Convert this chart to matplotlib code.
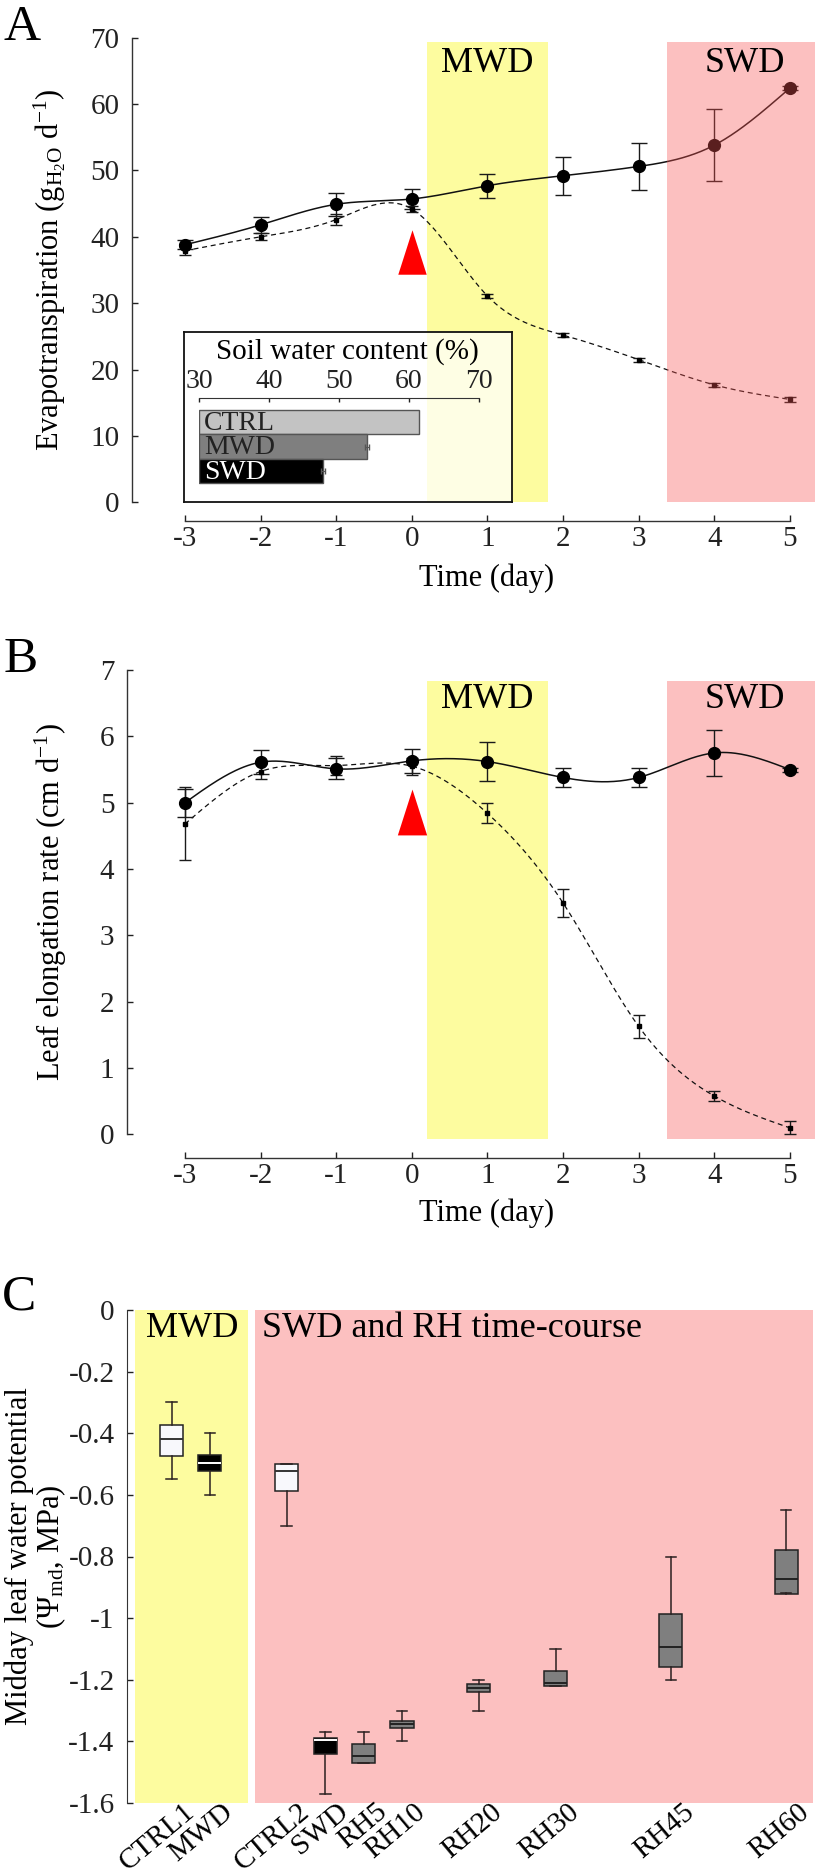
import numpy as np
import matplotlib
matplotlib.use('Agg')
import matplotlib.pyplot as plt
from matplotlib.transforms import ScaledTranslation

plt.rcParams['font.family'] = ['Liberation Serif', 'DejaVu Serif']
plt.rcParams['mathtext.fontset'] = 'custom'
plt.rcParams['mathtext.rm'] = 'Liberation Serif'
plt.rcParams['mathtext.it'] = 'Liberation Serif:italic'
plt.rcParams['axes.unicode_minus'] = False

# ---------------- data ----------------
days = [-3, -2, -1, 0, 1, 2, 3, 4, 5]

# A: evapotranspiration (g H2O / d)
et_ctrl = [38.8, 41.8, 44.9, 45.7, 47.7, 49.2, 50.6, 53.8, 62.4]
et_ctrl_err = [0.7, 1.2, 1.7, 1.55, 1.8, 2.9, 3.5, 5.4, 0.3]
et_drought = [37.9, 40.0, 42.6, 44.2, 31.1, 25.2, 21.5, 17.7, 15.5]
et_drought_err = [0.6, 0.5, 0.8, 0.5, 0.3, 0.3, 0.3, 0.3, 0.4]

# inset: soil water content (%)
swc_labels = ['CTRL', 'MWD', 'SWD']
swc_values = [61.4, 54.0, 47.7]
swc_err = [0.0, 0.3, 0.3]

# B: leaf elongation rate (cm / d)
ler_ctrl = [5.0, 5.61, 5.51, 5.63, 5.62, 5.38, 5.38, 5.75, 5.50]
ler_ctrl_err = [0.21, 0.18, 0.16, 0.18, 0.30, 0.15, 0.15, 0.35, 0.03]
ler_drought = [4.68, 5.47, 5.56, 5.55, 4.84, 3.49, 1.63, 0.58, 0.10]
ler_drought_err = [0.55, 0.12, 0.15, 0.13, 0.15, 0.21, 0.17, 0.08, 0.10]

# C: midday leaf water potential (MPa) box stats
box_labels = ['CTRL1', 'MWD', 'CTRL2', 'SWD', 'RH5', 'RH10', 'RH20', 'RH30', 'RH45', 'RH60']
box_whislo = [-0.55, -0.60, -0.70, -1.57, -1.47, -1.40, -1.30, -1.22, -1.20, -0.92]
box_q1 = [-0.474, -0.522, -0.586, -1.44, -1.47, -1.358, -1.241, -1.221, -1.158, -0.922]
box_med = [-0.42, -0.495, -0.523, -1.396, -1.446, -1.345, -1.226, -1.209, -1.095, -0.872]
box_q3 = [-0.374, -0.471, -0.499, -1.39, -1.41, -1.333, -1.214, -1.172, -0.985, -0.779]
box_whishi = [-0.30, -0.40, -0.499, -1.37, -1.37, -1.30, -1.20, -1.10, -0.80, -0.65]
box_group = ['ctrl', 'dark', 'ctrl', 'dark', 'rh', 'rh', 'rh', 'rh', 'rh', 'rh']
c_yticks = [0, -0.2, -0.4, -0.6, -0.8, -1, -1.2, -1.4, -1.6]
c_yticklabels = ['0', '-0.2', '-0.4', '-0.6', '-0.8', '-1', '-1.2', '-1.4', '-1.6']

# ---------------- helpers ----------------
W, H = 816, 1872
YELLOW = '#fdfc9f'
PINK = '#fcc0c0'


def rect(l, t, r, b):
    return [l / W, 1 - b / H, (r - l) / W, (b - t) / H]


def natural_spline(x, y, num=300):
    x = np.asarray(x, float)
    y = np.asarray(y, float)
    n = len(x)
    h = np.diff(x)
    A = np.zeros((n, n))
    r = np.zeros(n)
    A[0, 0] = A[-1, -1] = 1
    for i in range(1, n - 1):
        A[i, i - 1] = h[i - 1]
        A[i, i] = 2 * (h[i - 1] + h[i])
        A[i, i + 1] = h[i]
        r[i] = 6 * ((y[i + 1] - y[i]) / h[i] - (y[i] - y[i - 1]) / h[i - 1])
    M = np.linalg.solve(A, r)
    xs = np.linspace(x[0], x[-1], num)
    k = np.clip(np.searchsorted(x, xs) - 1, 0, n - 2)
    hh = x[k + 1] - x[k]
    t0 = x[k + 1] - xs
    t1 = xs - x[k]
    ys = (M[k] * t0 ** 3 + M[k + 1] * t1 ** 3) / (6 * hh) \
        + (y[k] / hh - M[k] * hh / 6) * t0 + (y[k + 1] / hh - M[k + 1] * hh / 6) * t1
    return xs, ys


tri = [(-0.64, -1), (0.64, -1), (0, 1)]


def time_panel(ax, ctrl, ctrl_err, dr, dr_err, xlim, span, pink_over, tri_y, tri_ms):
    ax.set_xlim(*xlim)
    for s in ['top', 'right']:
        ax.spines[s].set_visible(False)
    for s in ['left', 'bottom']:
        ax.spines[s].set_color('#333333')
        ax.spines[s].set_linewidth(1.0)
    ax.spines['bottom'].set_position(('outward', 13.3))
    ax.spines['bottom'].set_bounds(-3, 5)
    ax.set_xticks(days)
    ax.tick_params(axis='both', direction='in', length=4.5, width=1.0, colors='#222222', labelsize=21)
    ax.tick_params(axis='x', pad=4)
    ax.tick_params(axis='y', pad=9)

    ax.plot(*natural_spline(days, ctrl), '-', color='#111111', lw=1.1, zorder=3)
    ax.plot(*natural_spline(days, dr), color='#111111', lw=0.9, ls=(0, (4, 3)), zorder=3)
    ax.errorbar(days, ctrl, yerr=ctrl_err, fmt='none', ecolor='#1a1a1a', elinewidth=1.0,
                capsize=6, capthick=1.0, zorder=3)
    ax.errorbar(days, dr, yerr=dr_err, fmt='none', ecolor='#1a1a1a', elinewidth=1.0,
                capsize=4, capthick=1.0, zorder=3)
    ax.plot(days, ctrl, 'o', color='black', ms=8.5, zorder=4)
    ax.plot(days, dr, 's', color='black', ms=3, zorder=4)

    ax.fill_between([0.2, 1.8], span[0], span[1], color=YELLOW, lw=0, zorder=0)
    if pink_over:
        ax.fill_between([3.37, 5.4], span[0], span[1], color='#f75555', alpha=0.37, lw=0, zorder=5)
    else:
        ax.fill_between([3.37, 5.4], span[0], span[1], color=PINK, lw=0, zorder=0)
    ax.plot([0], [tri_y], marker=tri, ms=tri_ms, color='#ff0000', mec='none', zorder=6)


# ---------------- figure ----------------
fig = plt.figure(figsize=(W / 100, H / 100), dpi=100)

# Panel A
axA = fig.add_axes(rect(132, 37.7, 814, 502.3))
time_panel(axA, et_ctrl, et_ctrl_err, et_drought, et_drought_err,
           (-3.70, 5.32), (0, 69.3), True, 37.65, 32)
axA.set_ylim(0, 70)
axA.set_yticks(range(0, 71, 10))
axA.text(1.0, 64.9, 'MWD', ha='center', va='baseline', fontsize=26, zorder=7)
axA.text(4.41, 64.9, 'SWD', ha='center', va='baseline', fontsize=26, zorder=7)
axA.set_ylabel(r'Evapotranspiration (g$_{\mathrm{H_2O}}$ d$^{-1}$)', fontsize=22)
axA.yaxis.set_label_coords(-0.121, 0.5)
axA.yaxis.label.set_va('center')
fig.text(487 / W, 1 - 586 / H, 'Time (day)', ha='center', va='baseline', fontsize=22)

# inset: soil water content
axBox = fig.add_axes(rect(184, 332, 512, 502))
axBox.set_facecolor((1, 1, 1, 0.72))
axBox.set_xticks([])
axBox.set_yticks([])
for s in axBox.spines.values():
    s.set_linewidth(1.3)
    s.set_color('#111111')

axS = fig.add_axes(rect(199, 398, 479, 486))
axS.patch.set_visible(False)
ypos = np.arange(len(swc_labels))
bar_cols = ['#c3c3c3', '#7f7f7f', '#000000']
txt_cols = ['#222222', '#222222', 'white']
axS.barh(ypos, np.array(swc_values) - 30, left=30, height=1.0, color=bar_cols,
         edgecolor='#555555', linewidth=1.0)
axS.errorbar(swc_values[1:], ypos[1:], xerr=swc_err[1:], fmt='none', ecolor='#555555',
             elinewidth=0.8, capsize=2)
for yy, lab, tc in zip(ypos, swc_labels, txt_cols):
    axS.text(30.7, yy + 0.05, lab, color=tc, fontsize=20, ha='left', va='center')
axS.set_xlim(30, 70)
axS.set_ylim(2.62, -0.99)
axS.set_yticks([])
axS.xaxis.tick_top()
axS.set_xticks([30, 40, 50, 60, 70])
axS.tick_params(axis='x', direction='in', length=3, width=1.0, labelsize=20, pad=3, colors='#222222')
for s in ['bottom', 'left', 'right']:
    axS.spines[s].set_visible(False)
axS.spines['top'].set_color('#333333')
fig.text(347 / W, 1 - 359 / H, 'Soil water content (%)', ha='center', va='baseline', fontsize=21)

# Panel B
axB = fig.add_axes(rect(127, 670, 814, 1139.1))
time_panel(axB, ler_ctrl, ler_ctrl_err, ler_drought, ler_drought_err,
           (-3.767, 5.32), (-0.07, 6.84), False, 4.86, 33)
axB.set_ylim(-0.07, 7)
axB.spines['left'].set_bounds(0, 7)
axB.set_yticks(range(0, 8))
axB.text(1.0, 6.43, 'MWD', ha='center', va='baseline', fontsize=26, zorder=7)
axB.text(4.41, 6.43, 'SWD', ha='center', va='baseline', fontsize=26, zorder=7)
axB.set_ylabel(r'Leaf elongation rate (cm d$^{-1}$)', fontsize=22)
axB.yaxis.set_label_coords(-0.111, 1 - (902 - 670) / (1139.1 - 670))
axB.yaxis.label.set_va('center')
fig.text(487 / W, 1 - 1221 / H, 'Time (day)', ha='center', va='baseline', fontsize=22)

# Panel C
axC = fig.add_axes(rect(127, 1310, 813, 1803))
positions = [-20, -15, -5, 0, 5, 10, 20, 30, 45, 60]
axC.set_xlim(-25.8, 63.5)
axC.set_ylim(-1.6, 0)
axC.axvspan(-24.7, -10.0, color=YELLOW, lw=0, zorder=0)
axC.axvspan(-9.1, 63.5, color=PINK, lw=0, zorder=0)
stats = [dict(label=l, whislo=a, q1=b, med=c, q3=d, whishi=e, fliers=[])
         for l, a, b, c, d, e in zip(box_labels, box_whislo, box_q1, box_med, box_q3, box_whishi)]
bp = axC.bxp(stats, positions=positions, widths=3.0, capwidths=1.4, patch_artist=True,
             showfliers=False, manage_ticks=False,
             boxprops=dict(edgecolor='#222222', linewidth=1.1),
             whiskerprops=dict(color='#2a2020', linewidth=1.1),
             capprops=dict(color='#2a2020', linewidth=1.1),
             medianprops=dict(color='#222222', linewidth=1.4))
face = {'ctrl': '#f8f8fc', 'dark': '#000000', 'rh': '#7f7f7f'}
medc = {'ctrl': '#333333', 'dark': '#ffffff', 'rh': '#222222'}
for patch, med, g in zip(bp['boxes'], bp['medians'], box_group):
    patch.set_facecolor(face[g])
    med.set_color(medc[g])
for s in ['top', 'right', 'bottom']:
    axC.spines[s].set_visible(False)
axC.spines['left'].set_color('#333333')
axC.set_yticks(c_yticks, c_yticklabels)
axC.tick_params(axis='y', direction='in', length=4.5, width=1.0, labelsize=21, pad=9, colors='#222222')
axC.set_xticks(positions, box_labels, rotation=40, ha='right', va='center',
               rotation_mode='anchor', fontsize=21)
axC.tick_params(axis='x', length=0, pad=4)
shift = ScaledTranslation(20 / 100, 0, fig.dpi_scale_trans)
for lab in axC.get_xticklabels():
    lab.set_transform(lab.get_transform() + shift)
axC.text(-17.3, -0.088, 'MWD', ha='center', va='baseline', fontsize=26)
axC.text(-8.2, -0.088, 'SWD and RH time-course', ha='left', va='baseline', fontsize=26)
axC.set_ylabel('Midday leaf water potential\n(Ψ$_{\\mathrm{md}}$, MPa)', fontsize=22,
               linespacing=1.0)
axC.yaxis.set_label_coords((36 - 127) / (813 - 127), 0.5)
axC.yaxis.label.set_va('center')

# panel letters
fig.text(22 / W, 1 - 40 / H, 'A', ha='center', va='baseline', fontsize=37)
fig.text(21 / W, 1 - 672 / H, 'B', ha='center', va='baseline', fontsize=37)
fig.text(19 / W, 1 - 1309 / H, 'C', ha='center', va='baseline', fontsize=37)

fig.savefig('out.png', dpi=100)
